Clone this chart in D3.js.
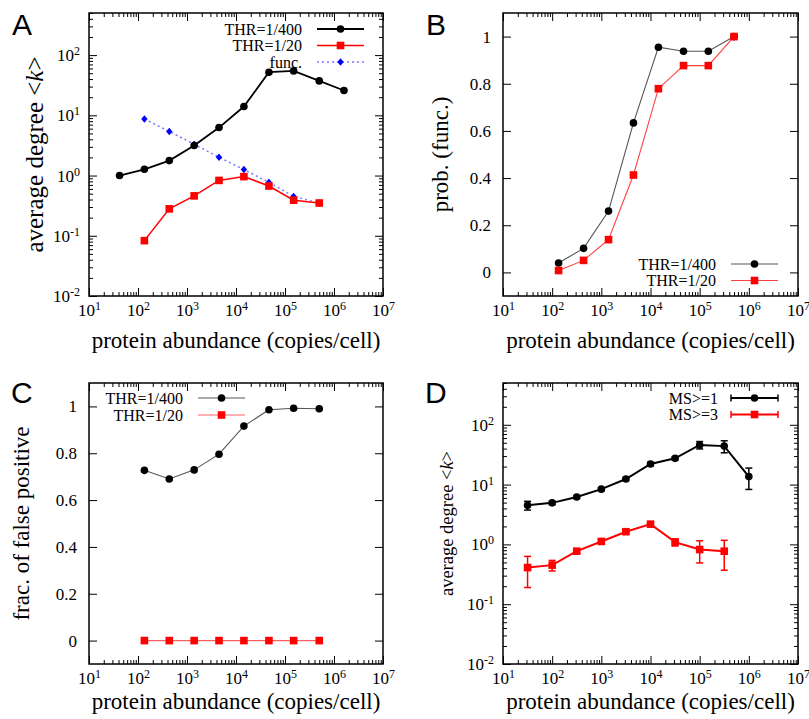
<!DOCTYPE html>
<html>
<head>
<meta charset="utf-8">
<script src="https://cdn.jsdelivr.net/npm/d3@7"></script>
<style>
  body { margin: 0; background: #fff; }
  svg { display: block; }
  .serif { font-family: "Liberation Serif", "Times New Roman", serif; }
</style>
</head>
<body>
<svg id="fig" width="809" height="719"></svg>
<script>
// ---- data ----
// abundance bins (copies/cell)
var xA400 = [42, 135, 435, 1400, 4500, 14500, 47000, 150000, 500000, 1600000];
var xBins = [135, 435, 1400, 4500, 14500, 47000, 150000, 500000];
var xMS = [31.6, 100, 316, 1000, 3160, 10000, 31600, 100000, 316000, 1000000];

// A: average degree
var kThr400 = [1.0, 1.27, 1.77, 3.15, 6.26, 14.0, 52, 54.7, 37.3, 25.8];
var kThr20 = [0.083, 0.28, 0.46, 0.83, 0.96, 0.67, 0.39, 0.35];
var kFunc = [8.7, 5.4, 3.31, 2.01, 1.26, 0.77, 0.45, 0.35];

// B: prob. (func.)
var probThr400 = [0.040, 0.102, 0.260, 0.634, 0.955, 0.938, 0.938, 1.0];
var probThr20 = [0.008, 0.051, 0.139, 0.413, 0.779, 0.877, 0.877, 1.0];

// C: frac. of false positive
var fpThr400 = [0.727, 0.690, 0.729, 0.796, 0.916, 0.986, 0.992, 0.990];
var fpThr20 = [0, 0, 0, 0, 0, 0, 0, 0];

// D: average degree by MS score, with errors
var kMS1 = [4.5, 4.95, 6.2, 8.4, 12.4, 22.1, 27.5, 46.0, 44.0, 13.6];
var errMS1 = [0.75, 0.35, 0.35, 0.5, 0.7, 1.5, 1.8, 6.5, 10, 5.3];
var kMS3 = [0.41, 0.45, 0.77, 1.12, 1.63, 2.18, 1.09, 0.82, 0.77];
var errMS3 = [0.22, 0.09, 0.05, 0.06, 0.08, 0.1, 0.15, 0.33, 0.4];

var xTickExp = [1, 2, 3, 4, 5, 6, 7];
var yTickExp = [-2, -1, 0, 1, 2];
var yLinTicks = [0, 0.2, 0.4, 0.6, 0.8, 1];

var svg = d3.select('#fig');

var RED = '#ff0000', BLUE = '#0000ff';

function logMinor(e0, e1, max) {
  var m = [];
  for (var e = e0; e < e1; e++) for (var k = 2; k < 10; k++) {
    var v = k * Math.pow(10, e);
    if (v <= max) m.push(v);
  }
  return m;
}

function sup(sel) {
  sel.each(function(d) {
    var t = d3.select(this);
    var e = Math.round(Math.log10(d));
    t.text('10');
    t.append('tspan').attr('dy', '-0.5em').attr('font-size', '12px').text(e);
  });
}

var panel = function(p) {
  var g = svg.append('g');
  var x = d3.scaleLog().domain([10, 1e7]).range([p.left, p.right]);
  var y = p.ylog ? d3.scaleLog().domain([0.01, 500]).range([p.bottom, p.top])
                 : d3.scaleLinear().domain([-0.1, 1.1]).range([p.bottom, p.top]);

  var xMajor = xTickExp.map(function(e) { return Math.pow(10, e); });
  var xMinor = logMinor(1, 7, 1e7);

  var clean = function(a) { a.select('.domain').remove(); a.selectAll('line').attr('stroke', '#000').attr('stroke-width', 1); };

  // x ticks bottom (labelled) and top, inward
  g.append('g').attr('transform', 'translate(0,' + p.bottom + ')')
    .call(d3.axisBottom(x).tickValues(xMajor).tickSize(-8).tickPadding(8))
    .call(clean)
    .call(function(a) { a.selectAll('text').attr('class', 'serif').attr('font-size', 17).attr('fill', '#000').call(sup); });
  g.append('g').attr('transform', 'translate(0,' + p.bottom + ')')
    .call(d3.axisBottom(x).tickValues(xMinor).tickSize(-4).tickFormat('')).call(clean);
  g.append('g').attr('transform', 'translate(0,' + p.top + ')')
    .call(d3.axisTop(x).tickValues(xMajor).tickSize(-8).tickFormat('')).call(clean);
  g.append('g').attr('transform', 'translate(0,' + p.top + ')')
    .call(d3.axisTop(x).tickValues(xMinor).tickSize(-4).tickFormat('')).call(clean);

  // y ticks
  if (p.ylog) {
    var yMajor = yTickExp.map(function(e) { return Math.pow(10, e); });
    var yMinor = logMinor(-2, 3, 500);
    g.append('g').attr('transform', 'translate(' + p.left + ',0)')
      .call(d3.axisLeft(y).tickValues(yMajor).tickSize(-8).tickPadding(9))
      .call(clean)
      .call(function(a) { a.selectAll('text').attr('class', 'serif').attr('font-size', 17).attr('fill', '#000').call(sup); });
    g.append('g').attr('transform', 'translate(' + p.left + ',0)')
      .call(d3.axisLeft(y).tickValues(yMinor).tickSize(-4).tickFormat('')).call(clean);
    g.append('g').attr('transform', 'translate(' + p.right + ',0)')
      .call(d3.axisRight(y).tickValues(yMajor).tickSize(-8).tickFormat('')).call(clean);
    g.append('g').attr('transform', 'translate(' + p.right + ',0)')
      .call(d3.axisRight(y).tickValues(yMinor).tickSize(-4).tickFormat('')).call(clean);
  } else {
    g.append('g').attr('transform', 'translate(' + p.left + ',0)')
      .call(d3.axisLeft(y).tickValues(yLinTicks).tickSize(-8).tickPadding(12).tickFormat(d3.format('')))
      .call(clean)
      .call(function(a) { a.selectAll('text').attr('class', 'serif').attr('font-size', 17).attr('fill', '#000'); });
    g.append('g').attr('transform', 'translate(' + p.right + ',0)')
      .call(d3.axisRight(y).tickValues(yLinTicks).tickSize(-8).tickFormat('')).call(clean);
  }

  // frame
  g.append('rect').attr('x', p.left).attr('y', p.top)
    .attr('width', p.right - p.left).attr('height', p.bottom - p.top)
    .attr('fill', 'none').attr('stroke', '#000').attr('stroke-width', 1.5);

  // panel letter
  g.append('text').attr('x', p.lx).attr('y', p.ly)
    .style('font-family', '"Liberation Sans", Arial, sans-serif').attr('font-size', 30).text(p.letter);

  // axis titles
  g.append('text').attr('class', 'serif').attr('font-size', 23)
    .attr('x', (p.left + p.right) / 2).attr('y', p.xly).attr('text-anchor', 'middle')
    .text('protein abundance (copies/cell)');
  var yl = g.append('text').attr('class', 'serif').attr('font-size', p.ylfs)
    .attr('text-anchor', 'middle').attr('dy', '0.35em')
    .attr('transform', 'translate(' + p.ylx + ',' + (p.top + p.bottom) / 2 + ') rotate(-90)');
  if (p.ylabelK) {
    yl.append('tspan').text('average degree <');
    yl.append('tspan').attr('font-style', 'italic').text('k');
    yl.append('tspan').text('>');
  } else {
    yl.text(p.ylabel);
  }

  return {g: g, x: x, y: y};
};

function series(P, xs, ys, st) {
  var pts = xs.slice(0, ys.length).map(function(v, i) { return {x: v, y: ys[i], e: st.err ? st.err[i] : 0}; });
  var line = d3.line().x(function(d) { return P.x(d.x); }).y(function(d) { return P.y(d.y); });
  P.g.append('path').datum(pts).attr('d', line).attr('fill', 'none')
    .attr('stroke', st.lc).attr('stroke-width', st.lw).attr('stroke-dasharray', st.dash || null);
  if (st.err) {
    var eb = P.g.append('g').attr('stroke', st.c).attr('stroke-width', 1.5);
    pts.forEach(function(d) {
      var y1 = P.y(d.y + d.e), y0 = P.y(Math.max(d.y - d.e, 0.011)), cx = P.x(d.x);
      eb.append('line').attr('x1', cx).attr('x2', cx).attr('y1', y0).attr('y2', y1);
      eb.append('line').attr('x1', cx - 3.5).attr('x2', cx + 3.5).attr('y1', y0).attr('y2', y0);
      eb.append('line').attr('x1', cx - 3.5).attr('x2', cx + 3.5).attr('y1', y1).attr('y2', y1);
    });
  }
  pts.forEach(function(d) { marker(P.g, st.m, P.x(d.x), P.y(d.y), st.c); });
}

function marker(g, type, cx, cy, c) {
  if (type === 'circle') {
    g.append('circle').attr('cx', cx).attr('cy', cy).attr('r', 3.8).attr('fill', c);
  } else if (type === 'square') {
    g.append('rect').attr('x', cx - 3.8).attr('y', cy - 3.8).attr('width', 7.6).attr('height', 7.6).attr('fill', c);
  } else {
    g.append('path').attr('d', 'M' + cx + ',' + (cy - 3.8) + 'L' + (cx + 3.2) + ',' + cy + 'L' + cx + ',' + (cy + 3.8) + 'L' + (cx - 3.2) + ',' + cy + 'Z').attr('fill', c);
  }
}

function legend(P, items, tx, lx0, lx1, y0, dy) {
  items.forEach(function(it, i) {
    var yy = y0 + i * dy;
    P.g.append('text').attr('class', 'serif').attr('font-size', 16).attr('text-anchor', 'end')
      .attr('x', tx).attr('y', yy).attr('dy', '0.35em').text(it.label);
    P.g.append('line').attr('x1', lx0).attr('x2', lx1).attr('y1', yy).attr('y2', yy)
      .attr('stroke', it.lc).attr('stroke-width', it.lw).attr('stroke-dasharray', it.dash || null);
    if (it.err) {
      [lx0, lx1].forEach(function(xx) {
        P.g.append('line').attr('x1', xx).attr('x2', xx).attr('y1', yy - 3.5).attr('y2', yy + 3.5)
          .attr('stroke', it.c).attr('stroke-width', 1.5);
      });
    }
    marker(P.g, it.m, (lx0 + lx1) / 2, yy, it.c);
  });
}

// ---- panel A ----
var A = panel({left: 89, right: 383, top: 13, bottom: 296, ylog: true, letter: 'A', lx: 12, ly: 35,
  xly: 348, ylx: 34, ylfs: 25, ylabelK: true});
var stA = [
  {label: 'THR=1/400', m: 'circle', c: '#000', lc: '#000', lw: 1.8},
  {label: 'THR=1/20', m: 'square', c: RED, lc: RED, lw: 1.5},
  {label: 'func.', m: 'diamond', c: BLUE, lc: '#7777ff', lw: 1.5, dash: '2,3'}
];
series(A, xBins, kFunc, stA[2]);
series(A, xA400, kThr400, stA[0]);
series(A, xBins, kThr20, stA[1]);
legend(A, stA, 302, 317, 364, 29, 16.5);

// ---- panel B ----
var B = panel({left: 503, right: 798, top: 13, bottom: 296, ylog: false, letter: 'B', lx: 426, ly: 35,
  xly: 348, ylx: 440, ylfs: 23, ylabel: 'prob. (func.)'});
var stB = [
  {label: 'THR=1/400', m: 'circle', c: '#000', lc: '#555', lw: 1.1},
  {label: 'THR=1/20', m: 'square', c: RED, lc: '#ff4040', lw: 1.1}
];
series(B, xBins, probThr400, stB[0]);
series(B, xBins, probThr20, stB[1]);
legend(B, stB, 716, 731, 778, 264, 16.5);

// ---- panel C ----
var C = panel({left: 89, right: 383, top: 383, bottom: 664, ylog: false, letter: 'C', lx: 11, ly: 403,
  xly: 709, ylx: 21, ylfs: 23, ylabel: 'frac. of false positive'});
var stC = [
  {label: 'THR=1/400', m: 'circle', c: '#000', lc: '#555', lw: 1.1},
  {label: 'THR=1/20', m: 'square', c: RED, lc: '#ff6060', lw: 1.1}
];
series(C, xBins, fpThr400, stC[0]);
series(C, xBins, fpThr20, stC[1]);
legend(C, stC, 183, 198, 245, 398, 17);

// ---- panel D ----
var D = panel({left: 503, right: 798, top: 383, bottom: 664, ylog: true, letter: 'D', lx: 425, ly: 403,
  xly: 709, ylx: 447, ylfs: 18.5, ylabelK: true});
var stD = [
  {label: 'MS>=1', m: 'circle', c: '#000', lc: '#000', lw: 2, err: errMS1},
  {label: 'MS>=3', m: 'square', c: RED, lc: RED, lw: 2, err: errMS3}
];
series(D, xMS, kMS1, stD[0]);
series(D, xMS, kMS3, stD[1]);
legend(D, stD, 718, 731, 778, 398, 16.5);
</script>
</body>
</html>
